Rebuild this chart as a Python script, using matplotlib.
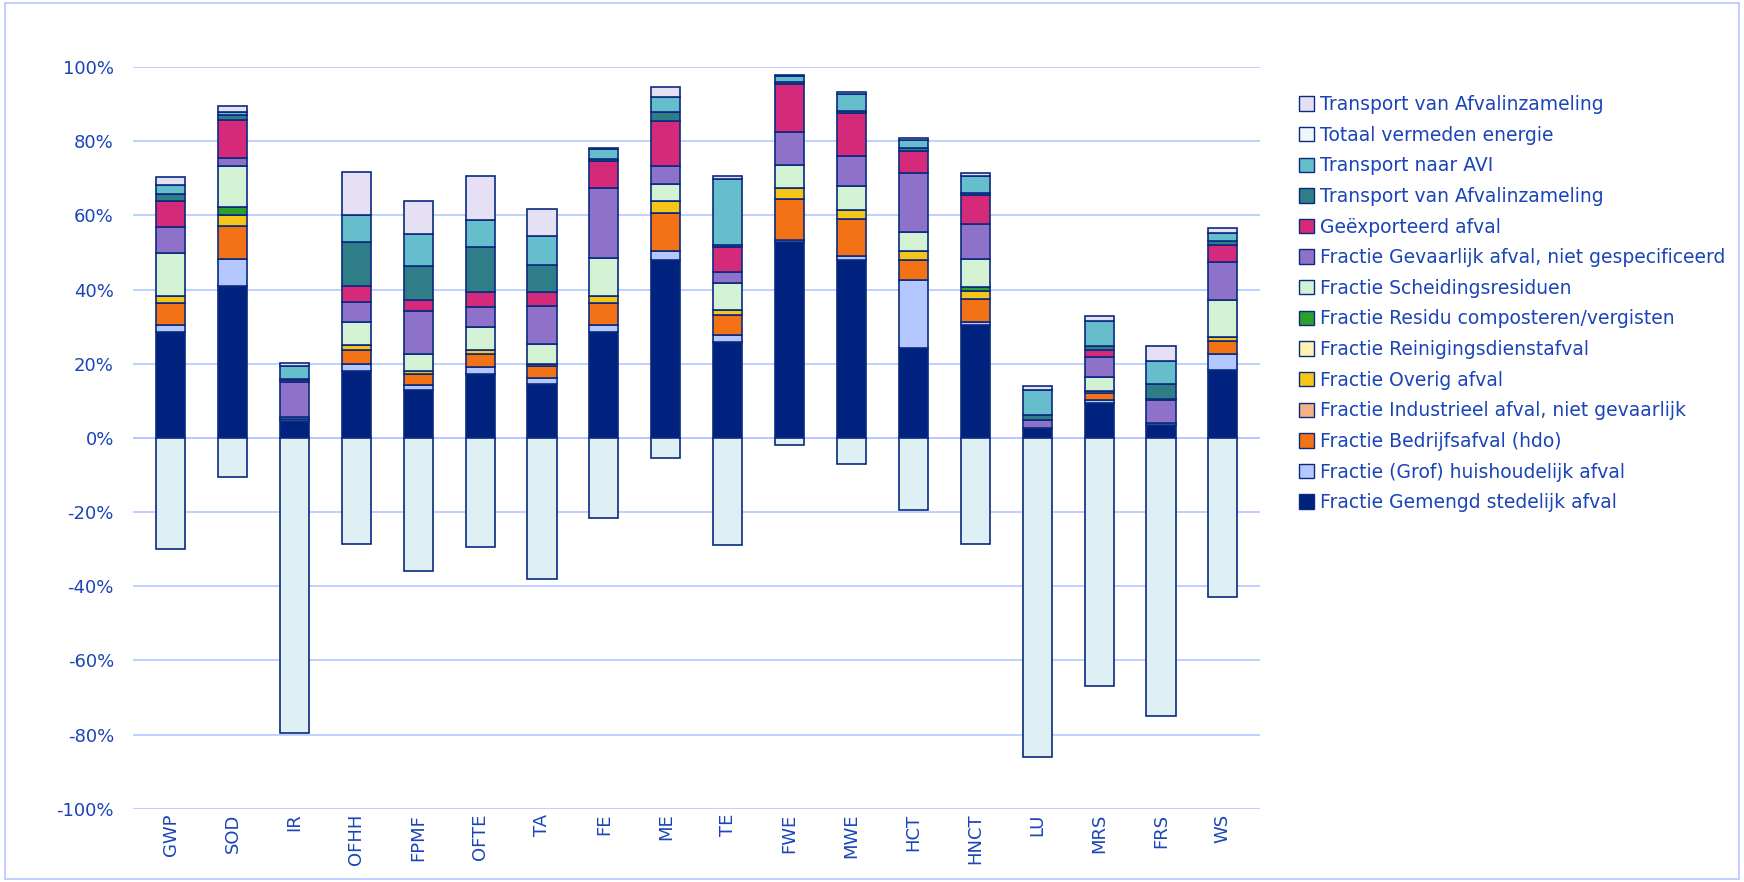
import numpy as np
import matplotlib.pyplot as plt
from matplotlib.patches import Patch, Rectangle

categories = ["GWP", "SOD", "IR", "OFHH", "FPMF", "OFTE", "TA", "FE", "ME",
              "TE", "FWE", "MWE", "HCT", "HNCT", "LU", "MRS", "FRS", "WS"]

# cumulative top of each stacked segment (%), bottom-up
tops = {
    "Fractie Gemengd stedelijk afval":            [28.5, 40.9, 4.5, 18.0, 13.0, 17.1, 14.6, 28.5, 48.1, 25.8, 52.7, 47.9, 24.3, 30.5, 2.7, 9.4, 3.6, 18.4],
    "Fractie (Grof) huishoudelijk afval":         [30.5, 48.3, 5.0, 20.0, 14.4, 19.0, 16.2, 30.4, 50.3, 27.7, 53.3, 49.0, 42.7, 31.2, 2.7, 10.1, 3.6, 22.5],
    "Fractie Bedrijfsafval (hdo)":                [36.4, 57.1, 5.0, 23.6, 17.3, 22.6, 19.3, 36.4, 60.6, 33.2, 64.5, 59.1, 47.9, 37.5, 2.7, 12.1, 3.6, 26.2],
    "Fractie Industrieel afval, niet gevaarlijk": [36.4, 57.1, 5.0, 23.6, 17.3, 22.6, 19.3, 36.4, 60.6, 33.2, 64.5, 59.1, 47.9, 37.5, 2.7, 12.1, 3.6, 26.2],
    "Fractie Overig afval":                       [38.2, 60.2, 5.0, 25.0, 18.0, 23.6, 20.0, 38.2, 63.8, 34.6, 67.4, 61.5, 50.3, 39.7, 2.7, 12.6, 3.6, 27.1],
    "Fractie Reinigingsdienstafval":              [38.2, 60.2, 5.0, 25.0, 18.0, 23.6, 20.0, 38.2, 63.8, 34.6, 67.4, 61.5, 50.3, 39.7, 2.7, 12.6, 3.6, 27.1],
    "Fractie Residu composteren/vergisten":       [38.2, 62.3, 5.0, 25.0, 18.0, 23.6, 20.0, 38.2, 63.8, 34.6, 67.4, 61.5, 50.3, 40.6, 2.7, 12.6, 3.6, 27.1],
    "Fractie Scheidingsresiduen":                 [49.8, 73.2, 5.6, 31.2, 22.6, 29.8, 25.3, 48.5, 68.5, 41.8, 73.5, 68.0, 55.4, 48.3, 2.7, 16.4, 4.0, 37.1],
    "Fractie Gevaarlijk afval, niet gespecificeerd": [56.9, 75.6, 15.1, 36.6, 34.1, 35.2, 35.7, 67.4, 73.4, 44.7, 82.5, 75.9, 71.4, 57.8, 4.8, 21.7, 10.1, 47.4],
    "Geëxporteerd afval":                         [64.0, 85.8, 15.5, 40.9, 37.3, 39.4, 39.4, 74.6, 85.4, 51.4, 95.4, 87.6, 77.4, 65.6, 4.8, 23.8, 10.5, 51.9],
    "Transport van Afvalinzameling":              [65.9, 87.0, 15.9, 52.7, 46.3, 51.4, 46.7, 75.3, 88.0, 52.1, 96.0, 88.2, 78.2, 66.0, 6.1, 24.9, 14.6, 53.2],
    "Transport naar AVI":                         [68.3, 88.0, 19.5, 60.0, 55.0, 58.7, 54.4, 77.9, 91.8, 69.9, 97.7, 92.7, 80.2, 70.7, 13.0, 31.6, 20.7, 55.3],
    "Transport van Afvalinzameling ":             [70.3, 89.4, 20.2, 71.7, 64.0, 70.5, 61.8, 78.3, 94.6, 70.7, 97.9, 93.3, 80.9, 71.4, 13.9, 32.8, 24.7, 56.6],
}
avoided = [-30, -10.5, -79.5, -28.5, -36, -29.5, -38, -21.5, -5.5, -29, -2, -7,
           -19.5, -28.5, -86, -67, -75, -43]

colors = ["#00227F", "#B4C7FF", "#F47216", "#F4B183", "#F5C518", "#FFF2B3",
          "#2CA02C", "#D3F2D3", "#8E72C9", "#D42A79", "#2E7D87", "#66BDCC", "#E6E0F5"]
avoided_color = "#DFF0F5"
edge = "#0A2A80"
text_blue = "#1A44B8"

fig = plt.figure(figsize=(17.44, 8.82), dpi=100)
fig.patches.append(Rectangle((0.003, 0.003), 0.994, 0.994, transform=fig.transFigure,
                             fill=False, edgecolor="#B4C7FF", linewidth=1.2))
ax = fig.add_axes([0.0765, 0.083, 0.646, 0.841])

x = np.arange(len(categories))
w = 0.47
prev = np.zeros(len(categories))
handles = []
for (name, vals), c in zip(tops.items(), colors):
    vals = np.array(vals)
    h = vals - prev
    ax.bar(x, h, w, bottom=prev, color=c, edgecolor=edge, linewidth=1.2, zorder=3)
    prev = vals
    handles.append(Patch(facecolor=c, edgecolor=edge, label=name.strip()))
ax.bar(x, avoided, w, color=avoided_color, edgecolor=edge, linewidth=1.2, zorder=3)
handles.insert(12, Patch(facecolor="#EEF8FA", edgecolor=edge, label="Totaal vermeden energie"))

ax.set_ylim(-100, 100)
ax.set_xlim(-0.6, len(categories) - 0.4)
ax.set_yticks(np.arange(-100, 101, 20))
ax.set_yticklabels([f"{v}%" for v in range(-100, 101, 20)])
ax.set_xticks(x)
ax.set_xticklabels(categories, rotation=90)
ax.tick_params(colors=text_blue, labelsize=13, length=0)
ax.tick_params(axis="y", pad=14)
ax.yaxis.grid(True, color="#B4C7FF", linewidth=1.2, zorder=0)
for s in ax.spines.values():
    s.set_visible(False)
ax.axhline(0, color="#B4C7FF", linewidth=1.2, zorder=2)

leg = ax.legend(handles=handles[::-1], loc="upper left", bbox_to_anchor=(1.02, 0.985),
                frameon=False, fontsize=13.5, handlelength=0.8, handleheight=0.8,
                labelspacing=0.62, handletextpad=0.3)
for t in leg.get_texts():
    t.set_color(text_blue)

fig.savefig("out.png", dpi=100)
